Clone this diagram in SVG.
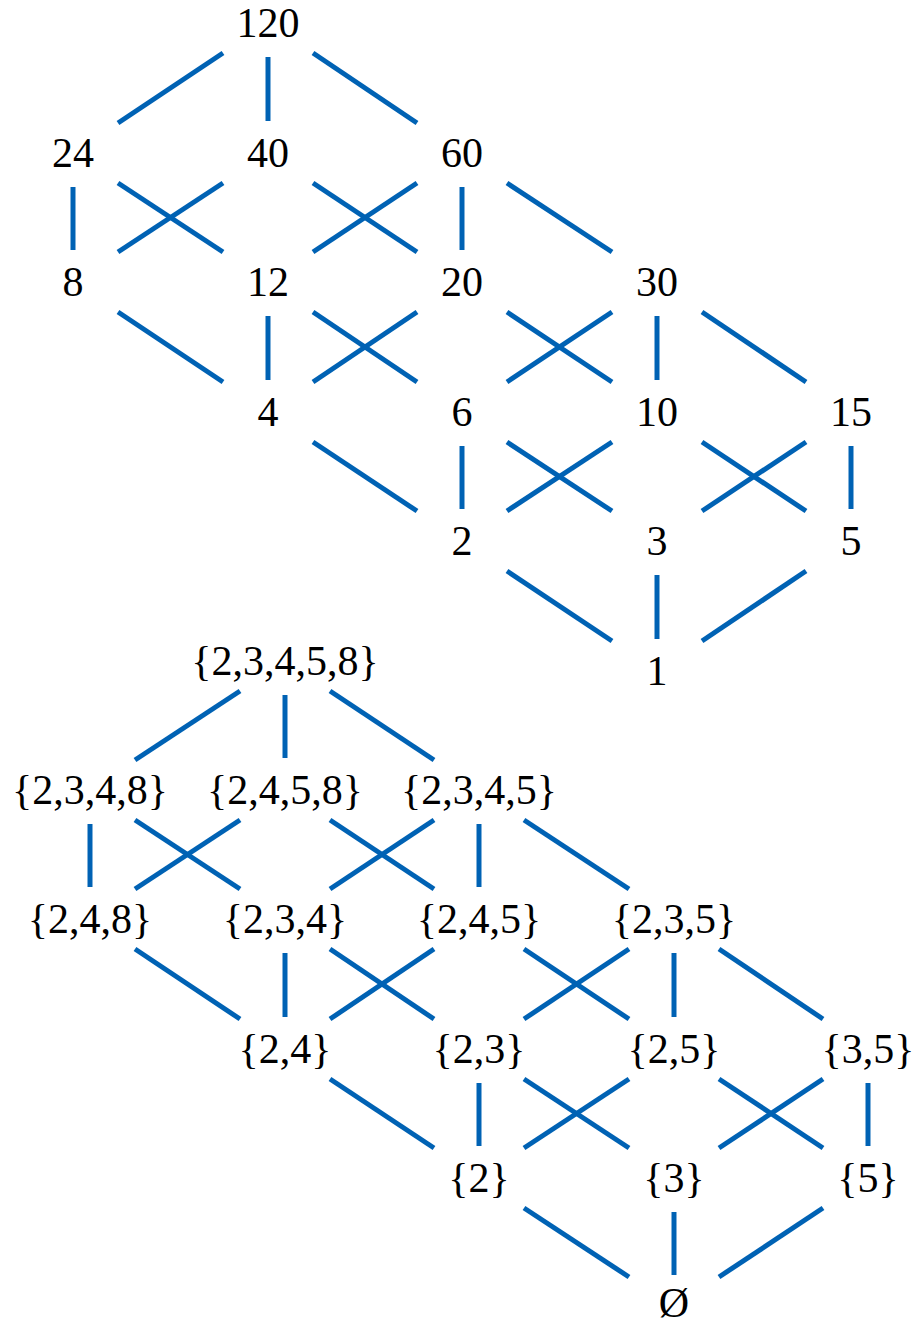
<svg xmlns="http://www.w3.org/2000/svg" width="916" height="1324" viewBox="0 0 916 1324">
<style>
text{font-family:"Liberation Serif","Times New Roman",serif;font-size:42px;fill:#000;text-anchor:middle}
#edges line{stroke:#0062b4;stroke-width:5;stroke-linecap:butt}
</style>
<rect width="916" height="1324" fill="#fff"/>
<g id="edges">
<!-- top lattice -->
<line x1="223" y1="53" x2="118" y2="123"/>
<line x1="268" y1="57" x2="268" y2="121"/>
<line x1="313" y1="53" x2="417" y2="123"/>
<line x1="73" y1="187" x2="73" y2="250"/>
<line x1="118" y1="183" x2="223" y2="252"/>
<line x1="223" y1="183" x2="118" y2="252"/>
<line x1="313" y1="183" x2="417" y2="252"/>
<line x1="417" y1="183" x2="313" y2="252"/>
<line x1="462" y1="187" x2="462" y2="250"/>
<line x1="507" y1="183" x2="612" y2="252"/>
<line x1="118" y1="312" x2="223" y2="382"/>
<line x1="268" y1="316" x2="268" y2="380"/>
<line x1="313" y1="312" x2="417" y2="382"/>
<line x1="417" y1="312" x2="313" y2="382"/>
<line x1="507" y1="312" x2="612" y2="382"/>
<line x1="612" y1="312" x2="507" y2="382"/>
<line x1="657" y1="316" x2="657" y2="380"/>
<line x1="702" y1="312" x2="806" y2="382"/>
<line x1="313" y1="442" x2="417" y2="511"/>
<line x1="462" y1="446" x2="462" y2="509"/>
<line x1="507" y1="442" x2="612" y2="511"/>
<line x1="612" y1="442" x2="507" y2="511"/>
<line x1="702" y1="442" x2="806" y2="511"/>
<line x1="806" y1="442" x2="702" y2="511"/>
<line x1="851" y1="446" x2="851" y2="509"/>
<line x1="507" y1="571" x2="612" y2="641"/>
<line x1="657" y1="575" x2="657" y2="639"/>
<line x1="806" y1="571" x2="702" y2="641"/>
<!-- bottom lattice -->
<line x1="240" y1="691" x2="135" y2="760"/>
<line x1="285" y1="695" x2="285" y2="758"/>
<line x1="330" y1="691" x2="434" y2="760"/>
<line x1="90" y1="824" x2="90" y2="887"/>
<line x1="135" y1="820" x2="240" y2="889"/>
<line x1="240" y1="820" x2="135" y2="889"/>
<line x1="330" y1="820" x2="434" y2="889"/>
<line x1="434" y1="820" x2="330" y2="889"/>
<line x1="479" y1="824" x2="479" y2="887"/>
<line x1="524" y1="820" x2="629" y2="889"/>
<line x1="135" y1="949" x2="240" y2="1019"/>
<line x1="285" y1="953" x2="285" y2="1017"/>
<line x1="330" y1="949" x2="434" y2="1019"/>
<line x1="434" y1="949" x2="330" y2="1019"/>
<line x1="524" y1="949" x2="629" y2="1019"/>
<line x1="629" y1="949" x2="524" y2="1019"/>
<line x1="674" y1="953" x2="674" y2="1017"/>
<line x1="719" y1="949" x2="823" y2="1019"/>
<line x1="330" y1="1079" x2="434" y2="1148"/>
<line x1="479" y1="1083" x2="479" y2="1146"/>
<line x1="524" y1="1079" x2="629" y2="1148"/>
<line x1="629" y1="1079" x2="524" y2="1148"/>
<line x1="719" y1="1079" x2="823" y2="1148"/>
<line x1="823" y1="1079" x2="719" y2="1148"/>
<line x1="868" y1="1083" x2="868" y2="1146"/>
<line x1="524" y1="1208" x2="629" y2="1277"/>
<line x1="674" y1="1212" x2="674" y2="1275"/>
<line x1="823" y1="1208" x2="719" y2="1277"/>
</g>
<g id="n120"><text x="268" y="37">120</text></g>
<g id="n24"><text x="73" y="167">24</text></g>
<g id="n40"><text x="268" y="167">40</text></g>
<g id="n60"><text x="462" y="167">60</text></g>
<g id="n8"><text x="73" y="296">8</text></g>
<g id="n12"><text x="268" y="296">12</text></g>
<g id="n20"><text x="462" y="296">20</text></g>
<g id="n30"><text x="657" y="296">30</text></g>
<g id="n4"><text x="268" y="426">4</text></g>
<g id="n6"><text x="462" y="426">6</text></g>
<g id="n10"><text x="657" y="426">10</text></g>
<g id="n15"><text x="851" y="426">15</text></g>
<g id="n2"><text x="462" y="555">2</text></g>
<g id="n3"><text x="657" y="555">3</text></g>
<g id="n5"><text x="851" y="555">5</text></g>
<g id="n1"><text x="657" y="685">1</text></g>
<g id="s23458"><text x="285" y="675">{2,3,4,5,8}</text></g>
<g id="s2348"><text x="90" y="804">{2,3,4,8}</text></g>
<g id="s2458"><text x="285" y="804">{2,4,5,8}</text></g>
<g id="s2345"><text x="479" y="804">{2,3,4,5}</text></g>
<g id="s248"><text x="90" y="933">{2,4,8}</text></g>
<g id="s234"><text x="285" y="933">{2,3,4}</text></g>
<g id="s245"><text x="479" y="933">{2,4,5}</text></g>
<g id="s235"><text x="674" y="933">{2,3,5}</text></g>
<g id="s24"><text x="285" y="1063">{2,4}</text></g>
<g id="s23"><text x="479" y="1063">{2,3}</text></g>
<g id="s25"><text x="674" y="1063">{2,5}</text></g>
<g id="s35"><text x="868" y="1063">{3,5}</text></g>
<g id="s2"><text x="479" y="1192">{2}</text></g>
<g id="s3"><text x="674" y="1192">{3}</text></g>
<g id="s5"><text x="868" y="1192">{5}</text></g>
<g id="s0"><text x="674" y="1317">Ø</text></g>
</svg>
